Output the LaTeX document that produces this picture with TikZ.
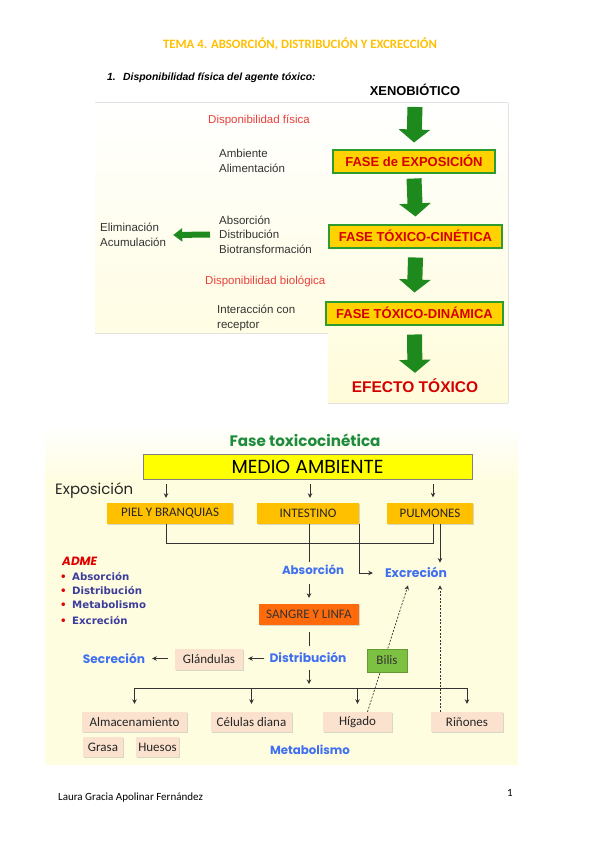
\documentclass[tikz,border=0pt]{standalone}
\usepackage{fontspec}
\setmainfont{Liberation Sans}
\newfontfamily\farial{Liberation Sans}
\newfontfamily\fcarl{Carlito}
\newfontfamily\fpop{Poppins}
\newfontfamily\fdv{DejaVu Sans}
\usepackage{graphicx}
\usetikzlibrary{arrows.meta,calc,shadows}
\newcommand{\fw}[2]{\resizebox{#1}{!}{#2}}
\definecolor{ttlorange}{HTML}{FFC000}
\definecolor{panelA}{HTML}{FFFCDA}
\definecolor{panelB}{HTML}{FFFDE0}
\definecolor{dispred}{HTML}{E8403A}
\definecolor{boxyel}{HTML}{FFD200}
\definecolor{boxgreen}{HTML}{2E9B2E}
\definecolor{boxred}{HTML}{D40000}
\definecolor{arrgreen}{HTML}{1E8A1E}
\definecolor{txtgray}{HTML}{333333}
\definecolor{ftcgreen}{HTML}{1E8C3C}
\definecolor{medioyel}{HTML}{FFFF00}
\definecolor{orbox}{HTML}{FFC000}
\definecolor{sangrec}{HTML}{FF6A0A}
\definecolor{peach}{HTML}{FBE2CE}
\definecolor{bilisg}{HTML}{7DC142}
\definecolor{bluet}{HTML}{4070F0}
\definecolor{admeblue}{HTML}{3C3C9C}
\definecolor{admered}{HTML}{E00000}
\definecolor{linec}{HTML}{333333}
\begin{document}
\begin{tikzpicture}[x=1pt,y=-1pt,
  topbox/.style={draw=boxgreen, line width=2pt, fill=boxyel, text=boxred,
    font=\farial\bfseries\fontsize{13}{15}\selectfont, inner sep=0pt, minimum height=23pt},
  garrow/.style={draw=arrgreen, line width=15pt, -{Triangle[width=31pt,length=13pt]}},
  lgarrow/.style={draw=arrgreen, line width=6pt, -{Triangle[width=13pt,length=9pt]}},
  gtext/.style={text=txtgray, font=\farial\fontsize{11.5}{14.5}\selectfont, align=left, anchor=west, inner sep=0pt},
  rtext/.style={text=dispred, font=\farial\fontsize{11.5}{14}\selectfont, anchor=west, inner sep=0pt},
  lbox/.style={inner sep=0pt, minimum height=21pt, text=black!85,
    font=\fcarl\fontsize{13}{15}\selectfont,
    drop shadow={shadow xshift=1.3pt, shadow yshift=-1.3pt, opacity=0.3}},
  bluelbl/.style={text=bluet, inner sep=0pt},
  ln/.style={draw=linec, line width=0.8pt},
  arrw/.style={draw=linec, line width=0.8pt, -{Stealth[length=4.5pt,width=4.5pt]}},
  dsh/.style={draw=linec, line width=0.7pt, dash pattern=on 2pt off 1.5pt, -{Stealth[length=4.5pt,width=4.5pt]}},
  adme/.style={anchor=west, inner sep=0pt, font=\fdv\bfseries\fontsize{10.2}{12}\selectfont}
]
\useasboundingbox (0,0) rectangle (599,848);
\fill[white] (0,0) rectangle (599,848);

% ---------- title ----------
\node[text=ttlorange, font=\fcarl\bfseries\fontsize{12.75}{14}\selectfont] (title) at (300,44) {TEMA 4. ABSORCIÓN, DISTRIBUCIÓN Y EXCRECCIÓN};

% ---------- top panel ----------
\fill[top color=white, bottom color=panelA] (95,103) -- (508,103) -- (508,403) -- (328,403) -- (328,333) -- (95,333) -- cycle;

\node[anchor=west, inner sep=0pt, font=\farial\bfseries\itshape\fontsize{10.4}{12}\selectfont] (head) at (107,78) {\makebox[16pt][l]{1.}Disponibilidad física del agente tóxico:};

\node[font=\farial\bfseries\fontsize{12.9}{14}\selectfont, inner sep=0pt] (xeno) at (415,90) {XENOBIÓTICO};
\node[topbox, minimum width=162pt] (fase1) at (414,161) {FASE de EXPOSICIÓN};
\node[topbox, minimum width=173pt] (fase2) at (415.5,236) {FASE TÓXICO-CINÉTICA};
\node[topbox, minimum width=177pt] (fase3) at (414.5,313) {FASE TÓXICO-DINÁMICA};
\node[text=boxred, font=\farial\bfseries\fontsize{15.5}{17}\selectfont, inner sep=0pt] (efecto) at (415,386) {EFECTO TÓXICO};

\draw[garrow] ($(xeno.south)+(0,11)$) -- ($(fase1.north)+(0,-6)$);
\draw[garrow] ($(fase1.south)+(0,5)$) -- ($(fase2.north)+(0,-7)$);
\draw[garrow] ($(fase2.south)+(0,9)$) -- ($(fase3.north)+(0,-8)$);
\draw[garrow] ($(fase3.south)+(0,9)$) -- ($(efecto.north)+(0,-6)$);

\node[rtext] (dfis) at (208,120) {Disponibilidad física};
\node[gtext] (amb) at (219,161) {Ambiente\\Alimentación};
\node[gtext] (adb) at (219,234.5) {Absorción\\Distribución\\Biotransformación};
\node[gtext] (elim) at (100,235) {Eliminación\\Acumulación};
\node[rtext] (dbio) at (205,281) {Disponibilidad biológica};
\node[gtext] (inter) at (217,318) {Interacción con\\receptor};
\draw[lgarrow] ($(adb.west)+(-9,0)$) -- ($(elim.east)+(7,0)$);

% ---------- lower panel ----------
\fill[top color=white, bottom color=panelB] (45,425) rectangle (518,480);
\fill[panelB] (45,479.5) rectangle (518,765);

\node[text=ftcgreen, inner sep=0pt] (ftc) at (305,440) {\fw{151pt}{\fpop\bfseries Fase toxicocinética}};
\node[draw=black!50, line width=0.8pt, fill=medioyel, minimum width=329pt, minimum height=25pt, inner sep=0pt] (medio) at (307.5,466.5) {\fw{152pt}{\fpop MEDIO AMBIENTE}};
\node[anchor=west, inner sep=0pt, text=black!85] (expo) at (55,491) {\fw{78pt}{\fpop Exposición}};

\node[lbox, fill=orbox, minimum width=126pt] (piel) at (170,513.5) {PIEL Y BRANQUIAS};
\node[lbox, fill=orbox, minimum width=102pt] (int) at (308,513.5) {INTESTINO};
\node[lbox, fill=orbox, minimum width=86pt] (pulm) at (430,513) {PULMONES};

\draw[arrw] ($(medio.south -| piel.north)+(-4,5)$) -- ($(piel.north)+(-4,-5)$);
\draw[arrw] ($(medio.south -| int.north)+(2,5)$) -- ($(int.north)+(2,-5)$);
\draw[arrw] ($(medio.south -| pulm.north)+(3,5)$) -- ($(pulm.north)+(3,-5)$);

\node[bluelbl] (abs) at (313,570) {\fw{62pt}{\fpop\bfseries Absorción}};
\node[bluelbl] (exc) at (416,572) {\fw{62pt}{\fpop\bfseries Excreción}};

\coordinate (bus1) at (0,543);
\draw[ln] ($(piel.south)+(-4,0)$) -- ($(piel.south |- bus1)+(-4,0)$) -- ($(pulm.south |- bus1)+(3,0)$) -- ($(pulm.south)+(3,0)$);
\draw[ln] ($(int.south)+(1,0)$) -- ($(int.south |- abs.north)+(1,-3)$);
\draw[arrw] (int.south east) -- ($(int.south east |- exc.west)+(0,1)$) -- ($(exc.west)+(-12,1)$);
\draw[arrw] ($(pulm.south)+(10,0)$) -- ($(pulm.south |- exc.north)+(10,-4)$);

\node[lbox, fill=sangrec, minimum width=100pt, text=black!80] (sangre) at (309,614.5) {SANGRE Y LINFA};
\draw[arrw] ($(abs.south -| int.south)+(1,9)$) -- ($(sangre.north)+(0,-6)$);

\node[bluelbl] (dist) at (308,657) {\fw{77pt}{\fpop\bfseries Distribución}};
\draw[ln] ($(sangre.south)+(0,7)$) -- ($(sangre.south |- dist.north)+(0,-6)$);

\node[lbox, fill=peach, minimum width=68pt] (gland) at (209,659.5) {Glándulas};
\node[bluelbl] (sec) at (114,658) {\fw{62pt}{\fpop\bfseries Secreción}};
\draw[arrw] ($(gland.east -| dist.west)+(-5,-1)$) -- ($(gland.east)+(5,-1)$);
\draw[arrw] ($(gland.west)+(-7,-1)$) -- ($(sec.east |- gland.west)+(7,-1)$);

\node[lbox, fill=peach, minimum width=105pt, minimum height=20pt] (alm) at (134.5,722) {Almacenamiento};
\node[lbox, fill=peach, minimum width=81pt, minimum height=20pt] (cel) at (251.5,722) {Células diana};
\node[lbox, fill=peach, minimum width=69pt, minimum height=20pt] (hig) at (357.5,722) {Hígado};
\node[lbox, fill=peach, minimum width=72pt, minimum height=20pt] (rin) at (467,722) {Riñones};
\node[lbox, fill=peach, minimum width=40pt, minimum height=20pt] (grasa) at (103,747) {Grasa};
\node[lbox, fill=peach, minimum width=43pt, minimum height=20pt] (huesos) at (157.5,747) {Huesos};
\node[bluelbl] (meta) at (310,750) {\fw{80pt}{\fpop\bfseries Metabolismo}};

\coordinate (bus2) at (0,688);
\draw[arrw] ($(dist.south)+(1,8)$) -- ($(dist.south |- bus2)+(1,-4)$);
\draw[ln] (alm.north |- bus2) -- (rin.north |- bus2);
\foreach \n in {alm,cel,hig,rin}
  \draw[arrw] (\n.north |- bus2) -- ($(\n.north)+(0,-8)$);

\draw[dsh] ($(hig.north)+(10,0)$) -- ($(exc.south)+(-8,8)$);
\draw[dsh] ($(rin.north)+(-27,0)$) -- ($(rin.north |- exc.south)+(-27,8)$);

\node[lbox, fill=bilisg, draw=bilisg!80!black, line width=0.4pt, minimum width=40pt, minimum height=23pt, text=black!80] (bilis) at (387,660.5) {Bilis};

% ADME list
\node[anchor=west, inner sep=0pt, text=admered] (adme) at (62,561) {\fw{35pt}{\fpop\bfseries\itshape ADME}};
\node[adme] (l1) at (60,576) {\makebox[12pt][l]{\textcolor{admered}{•}}\textcolor{admeblue}{Absorción}};
\node[adme] (l2) at (60,590.5) {\makebox[12pt][l]{\textcolor{admered}{•}}\textcolor{admeblue}{Distribución}};
\node[adme] (l3) at (60,605) {\makebox[12pt][l]{\textcolor{admered}{•}}\textcolor{admeblue}{Metabolismo}};
\node[adme] (l4) at (60,620) {\makebox[12pt][l]{\textcolor{admered}{•}}\textcolor{admeblue}{Excreción}};

% ---------- footer ----------
\node[anchor=west, inner sep=0pt, font=\fcarl\fontsize{11}{13}\selectfont] (author) at (58,798) {Laura Gracia Apolinar Fernández};
\node[inner sep=0pt, font=\fcarl\fontsize{11}{13}\selectfont] (pagenum) at (510,793) {1};
\end{tikzpicture}
\end{document}
